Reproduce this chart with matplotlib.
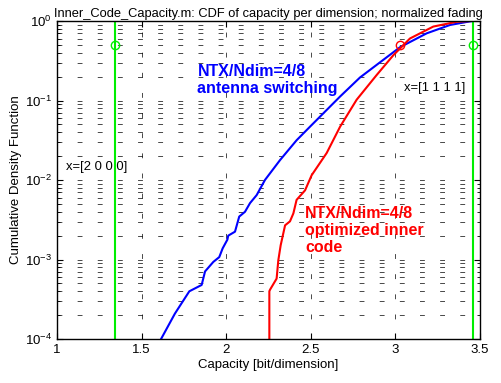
import numpy as np
import matplotlib
matplotlib.use('Agg')
import matplotlib.pyplot as plt

plt.rcParams['font.family'] = ['Liberation Sans', 'DejaVu Sans']

# capacity [bit/dim] and log10 of CDF
cap_switch = [1.615, 1.697, 1.782, 1.855, 1.875, 1.924, 1.959, 1.979, 2.007, 2.012,
              2.052, 2.077, 2.111, 2.141, 2.180, 2.229, 2.318, 2.416, 2.495, 2.673,
              2.791, 2.909, 3.027, 3.185, 3.323, 3.44, 3.46]
lcdf_switch = [-4.0, -3.68, -3.40, -3.32, -3.15, -3.03, -2.97, -2.86, -2.75, -2.70,
               -2.65, -2.46, -2.40, -2.29, -2.19, -2.0, -1.75, -1.50, -1.33, -0.95,
               -0.71, -0.52, -0.33, -0.155, -0.05, -0.005, 0.0]

cap_opt = [2.255, 2.255, 2.259, 2.298, 2.308, 2.322, 2.348, 2.377, 2.397, 2.416,
           2.466, 2.505, 2.594, 2.673, 2.771, 2.889, 2.988, 3.086, 3.224, 3.362, 3.44]
lcdf_opt = [-4.0, -3.40, -3.38, -3.24, -3.01, -2.82, -2.57, -2.52, -2.42, -2.25,
            -2.13, -1.94, -1.66, -1.33, -0.99, -0.68, -0.43, -0.22, -0.07, -0.01, 0.0]

x_2000 = 1.341   # capacity of x=[2 0 0 0]
x_1111 = 3.458   # capacity of x=[1 1 1 1]
x_median_opt = 3.03

fig = plt.figure(figsize=(5.01, 3.83), dpi=100)
ax = fig.add_axes([57/501, 1-339/383, 423/501, 318/383])

ax.semilogy(cap_switch, 10**np.array(lcdf_switch), color='blue', lw=1.5)
ax.semilogy(cap_opt, 10**np.array(lcdf_opt), color='red', lw=1.5)
ax.plot([x_median_opt], [0.5], 'o', mfc='none', mec='red', ms=6, mew=1)

for xv in [x_2000, x_1111]:
    ax.axvline(xv, color='#00ee00', lw=1.5)
    ax.plot([xv], [0.5], 'o', mfc='none', mec='#00ee00', ms=6, mew=1)

ax.set_xlim(1, 3.5)
ax.set_ylim(1e-4, 1)
ax.set_xticks([1, 1.5, 2, 2.5, 3, 3.5])
ax.set_xticklabels(['1', '1.5', '2', '2.5', '3', '3.5'])

dash = (0, (7, 22))
ax.grid(True, which='major', axis='x', color='k', lw=0.5, linestyle=dash)
ax.grid(True, which='both', axis='y', color='k', lw=0.5, linestyle=dash)
ax.tick_params(which='both', direction='in', top=True, right=True, labelsize=9.5)
ax.tick_params(which='major', length=4)
ax.tick_params(which='minor', length=2)
for s in ax.spines.values():
    s.set_linewidth(1)

ax.text(1.83, 0.29, 'NTX/Ndim=4/8\nantenna switching', color='blue',
        fontsize=11.5, fontweight='bold', va='top', linespacing=1.15)
ax.text(2.466, 4.7e-3, 'NTX/Ndim=4/8\noptimized inner\ncode', color='red',
        fontsize=11.5, fontweight='bold', va='top', linespacing=1.15)
ax.text(1.053, 1.46e-2, 'x=[2 0 0 0]', fontsize=9.4, va='center')
ax.text(3.05, 0.144, 'x=[1 1 1 1]', fontsize=9.4, va='center')

ax.set_title('Inner_Code_Capacity.m: CDF of capacity per dimension; normalized fading',
             fontsize=9.25, pad=3)
ax.set_xlabel('Capacity [bit/dimension]', fontsize=9.5, labelpad=2)
ax.set_ylabel('Cumulative Density Function', fontsize=9.5, labelpad=2)

plt.savefig('out.png', dpi=100)
